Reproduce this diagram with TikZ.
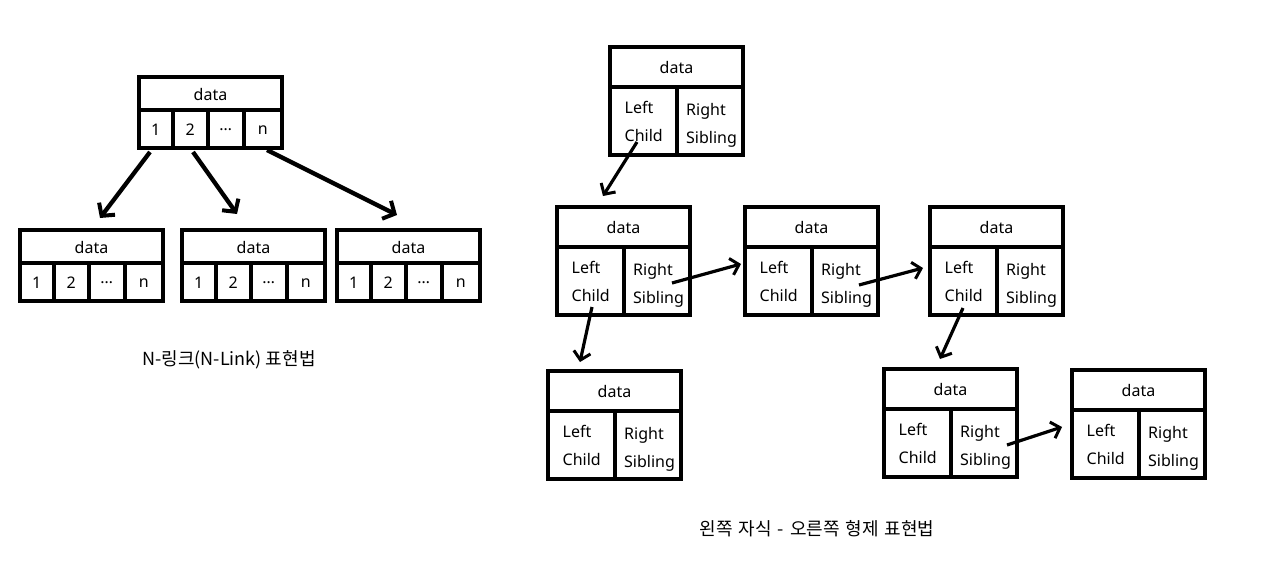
\documentclass[tikz,border=0pt]{standalone}
\usepackage{fontspec}
\setmainfont{Noto Sans}
\newfontfamily\krfont{Noto Sans CJK KR}
\usetikzlibrary{arrows.meta}
\tikzset{
  x=1pt, y=-1pt,
  box/.style={draw=black, line width=4pt},
  txt/.style={inner sep=0pt, font=\fontsize{16}{28}\selectfont, text=black},
  celltxt/.style={txt, anchor=base west},
  lbl/.style={inner sep=0pt, font=\krfont\fontsize{18}{22}\selectfont, text=black},
  nlarrow/.style={line width=4.3pt, -{Straight Barb[length=9pt,width=20pt,line width=4pt]}},
  lcarrow/.style={line width=3.2pt, -{Straight Barb[length=8pt,width=17pt,line width=3pt]}},
}
\newcommand\lcrsnode[3]{%
  \begin{scope}[shift={(#2,#3)}]
    \draw[box] (0,0) rectangle (133,108);
    \draw[box] (0,40) -- (133,40) (67,40) -- (67,108);
    \node[txt] (#1-d) at (66.5,20) {data};
    \node[celltxt] (#1-l1) at (14.5,66.5) {Left};
    \node[celltxt] (#1-l2) at (14.5,94.5) {Child};
    \node[celltxt] (#1-r1) at (76,68) {Right};
    \node[celltxt] (#1-r2) at (76,96) {Sibling};
  \end{scope}}
\newcommand\nlnode[3]{%
  \begin{scope}[shift={(#2,#3)}]
    \draw[box] (0,0) rectangle (143,71);
    \draw[box] (0,33) -- (143,33) (33.5,33) -- (33.5,71) (69,33) -- (69,71) (104.5,33) -- (104.5,71);
    \node[txt] (#1-d) at (71.5,17) {data};
    \node[txt] (#1-1) at (16.75,53) {1};
    \node[txt] (#1-2) at (51.25,53) {2};
    \node[txt] (#1-3) at (86.75,53) {…};
    \node[txt] (#1-n) at (123.75,53) {n};
  \end{scope}}
\begin{document}
\begin{tikzpicture}
\fill[white] (0,0) rectangle (1267,570);
\useasboundingbox (0,0) rectangle (1267,570);

% N-link representation
\nlnode{P}{139}{77}
\nlnode{Q1}{20}{230}
\nlnode{Q2}{182}{230}
\nlnode{Q3}{337}{230}

\coordinate (p1) at (150,152);
\coordinate (p2) at (193,152);
\coordinate (pn) at (267,150);
\coordinate (q1) at (100,218);
\coordinate (q2) at (237,214);
\coordinate (q3) at (397,215);
\draw[nlarrow] (p1) -- (q1);
\draw[nlarrow] (p2) -- (q2);
\draw[nlarrow] (pn) -- (q3);

\node[lbl] (lab1) at (229,360) {N-링크(N-Link) 표현법};

% left child - right sibling representation
\lcrsnode{T}{610}{47}
\lcrsnode{A}{557}{207}
\lcrsnode{B}{745}{207}
\lcrsnode{C}{930}{207}
\lcrsnode{D}{548}{371}
\lcrsnode{E}{884}{369}
\lcrsnode{F}{1072}{370}

\coordinate (ts) at (637,142);
\coordinate (ae) at (603,196);
\coordinate (as) at (672,283);
\coordinate (be) at (741,264);
\coordinate (bs) at (859,285);
\coordinate (ce) at (923,268);
\coordinate (cs) at (963,308);
\coordinate (ee) at (940,359);
\coordinate (es) at (1007,445);
\coordinate (fe) at (1062,427);
\coordinate (ads) at (592,307);
\coordinate (de) at (580,362);
\draw[lcarrow] (ts) -- (ae);
\draw[lcarrow] (as) -- (be);
\draw[lcarrow] (bs) -- (ce);
\draw[lcarrow] (cs) -- (ee);
\draw[lcarrow] (es) -- (fe);
\draw[lcarrow] (ads) -- (de);

\node[lbl] (lab2) at (817,529) {\spaceskip=6pt 왼쪽 자식 - 오른쪽 형제 표현법};
\end{tikzpicture}
\end{document}
